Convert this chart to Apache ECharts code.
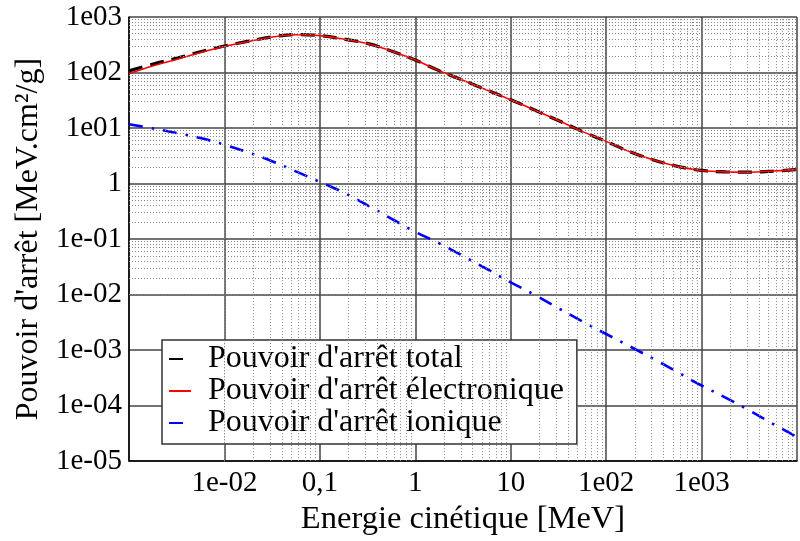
<!DOCTYPE html>
<html>
<head>
<meta charset="utf-8">
<script src="https://cdn.jsdelivr.net/npm/echarts@6/dist/echarts.min.js"></script>
<style>
  html, body { margin: 0; padding: 0; background: #fff; }
  #chart { width: 800px; height: 541px; }
</style>
</head>
<body>
<div id="chart"></div>
<script>
// energie cinetique (MeV), quarter decades
const energies = [
  0.001, 0.0018, 0.0032, 0.0056, 0.01, 0.018, 0.032, 0.056,
  0.1, 0.18, 0.32, 0.56, 1, 1.8, 3.2, 5.6,
  10, 18, 32, 56, 100, 180, 320, 560,
  1000, 1800, 3200, 5600, 10000
];
// pouvoir d'arret (MeV.cm2/g)
const totalValues = [
  107, 142, 182, 236, 300, 367, 440, 481,
  463, 399, 331, 245, 168, 107, 72, 48.4,
  32.4, 20.9, 13.5, 8.7, 5.75, 3.7, 2.63, 2.04,
  1.72, 1.62, 1.6, 1.68, 1.78
];
const electronValues = [
  95, 132, 174, 229, 295, 363, 437, 479,
  462, 398, 331, 245, 168, 107, 72, 48.4,
  32.4, 20.9, 13.5, 8.7, 5.75, 3.7, 2.63, 2.04,
  1.72, 1.62, 1.6, 1.68, 1.78
];
const ionValues = [
  11.7, 9.8, 8.1, 6.6, 5.0, 3.6, 2.5, 1.66,
  1.07, 0.68, 0.40, 0.234, 0.135, 0.083, 0.049, 0.029,
  0.0166, 0.0098, 0.0056, 0.0033, 0.00195, 0.00115, 6.8e-4, 4.0e-4,
  2.3e-4, 1.38e-4, 8.1e-5, 4.7e-5, 2.7e-5
];

const seriesNames = ["Pouvoir d'arrêt total", "Pouvoir d'arrêt électronique", "Pouvoir d'arrêt ionique"];
// tick labels, one per decade
const xTickLabels = ['', '1e-02', '0,1', '1', '10', '1e02', '1e03', ''];   // 1e-3 .. 1e4
const yTickLabels = ['1e-05', '1e-04', '1e-03', '1e-02', '1e-01', '1', '1e01', '1e02', '1e03']; // 1e-5 .. 1e3

const FONT = 'Liberation Serif';

const pairs = vals => energies.map((e, i) => [e, vals[i]]);

// minor grid lines at 2..9 x 10^k
const minorLines = [];
for (let k = -3; k <= 3; k++) {
  for (let m = 2; m <= 9; m++) minorLines.push({ xAxis: m * Math.pow(10, k) });
}
for (let k = -5; k <= 2; k++) {
  for (let m = 2; m <= 9; m++) minorLines.push({ yAxis: m * Math.pow(10, k) });
}

const chart = echarts.init(document.getElementById('chart'));

chart.setOption({
  animation: false,
  backgroundColor: '#fff',
  grid: { left: 129, right: -6, top: 17, bottom: 73 },
  xAxis: {
    type: 'log',
    logBase: 10,
    min: 1e-3,
    max: 1e4,
    splitNumber: 10,
    name: 'Energie cinétique [MeV]',
    nameLocation: 'middle',
    nameGap: 37,
    nameTextStyle: { fontFamily: FONT, fontSize: 32.5, color: '#000' },
    axisLine: { lineStyle: { color: '#000', width: 1.5 } },
    axisTick: { show: false },
    axisLabel: {
      fontFamily: FONT, fontSize: 29, color: '#000', margin: 8,
      formatter: v => xTickLabels[Math.round(Math.log10(v)) + 3] || ''
    },
    splitLine: { show: true, lineStyle: { color: '#444', width: 1.5 } }
  },
  yAxis: {
    type: 'log',
    logBase: 10,
    min: 1e-5,
    max: 1e3,
    splitNumber: 10,
    name: "Pouvoir d'arrêt [MeV.cm²/g]",
    nameLocation: 'middle',
    nameGap: 84,
    nameTextStyle: { fontFamily: FONT, fontSize: 32, color: '#000' },
    axisLine: { lineStyle: { color: '#000', width: 1.5 } },
    axisTick: { show: false },
    axisLabel: {
      fontFamily: FONT, fontSize: 29, color: '#000', margin: 7,
      formatter: v => yTickLabels[Math.round(Math.log10(v)) + 5] || ''
    },
    splitLine: { show: true, lineStyle: { color: '#444', width: 1.5 } }
  },
  legend: {
    left: 162,
    top: 340,
    orient: 'vertical',
    data: seriesNames,
    itemWidth: 22,
    itemHeight: 12,
    itemGap: 0,
    padding: [3, 13, 5, 6],
    backgroundColor: '#fff',
    borderColor: '#333',
    borderWidth: 1.5,
    borderRadius: 0,
    itemStyle: { opacity: 0 },
    textStyle: { fontFamily: FONT, fontSize: 32, color: '#000', lineHeight: 32, padding: [0, 0, 0, 12] }
  },
  series: [
    {
      name: 'grille',
      type: 'line',
      data: [],
      z: 1,
      silent: true,
      markLine: {
        silent: true,
        symbol: ['none', 'none'],
        label: { show: false },
        lineStyle: { color: '#888', width: 1, type: [1, 2] },
        data: minorLines
      }
    },
    {
      name: seriesNames[0],
      type: 'line',
      data: pairs(totalValues),
      smooth: 0.4,
      showSymbol: false,
      symbol: 'none',
      z: 3,
      lineStyle: { color: '#000', width: 3.2, type: [14, 8] },
      itemStyle: { color: '#000' }
    },
    {
      name: seriesNames[1],
      type: 'line',
      data: pairs(electronValues),
      smooth: 0.4,
      showSymbol: false,
      symbol: 'none',
      z: 4,
      lineStyle: { color: '#ff0000', width: 1.6 },
      itemStyle: { color: '#ff0000' }
    },
    {
      name: seriesNames[2],
      type: 'line',
      data: pairs(ionValues),
      smooth: 0.4,
      showSymbol: false,
      symbol: 'none',
      z: 3,
      lineStyle: { color: '#0000ff', width: 2.6, type: [14, 9, 2.5, 9] },
      itemStyle: { color: '#0000ff' }
    }
  ]
});
</script>
</body>
</html>
